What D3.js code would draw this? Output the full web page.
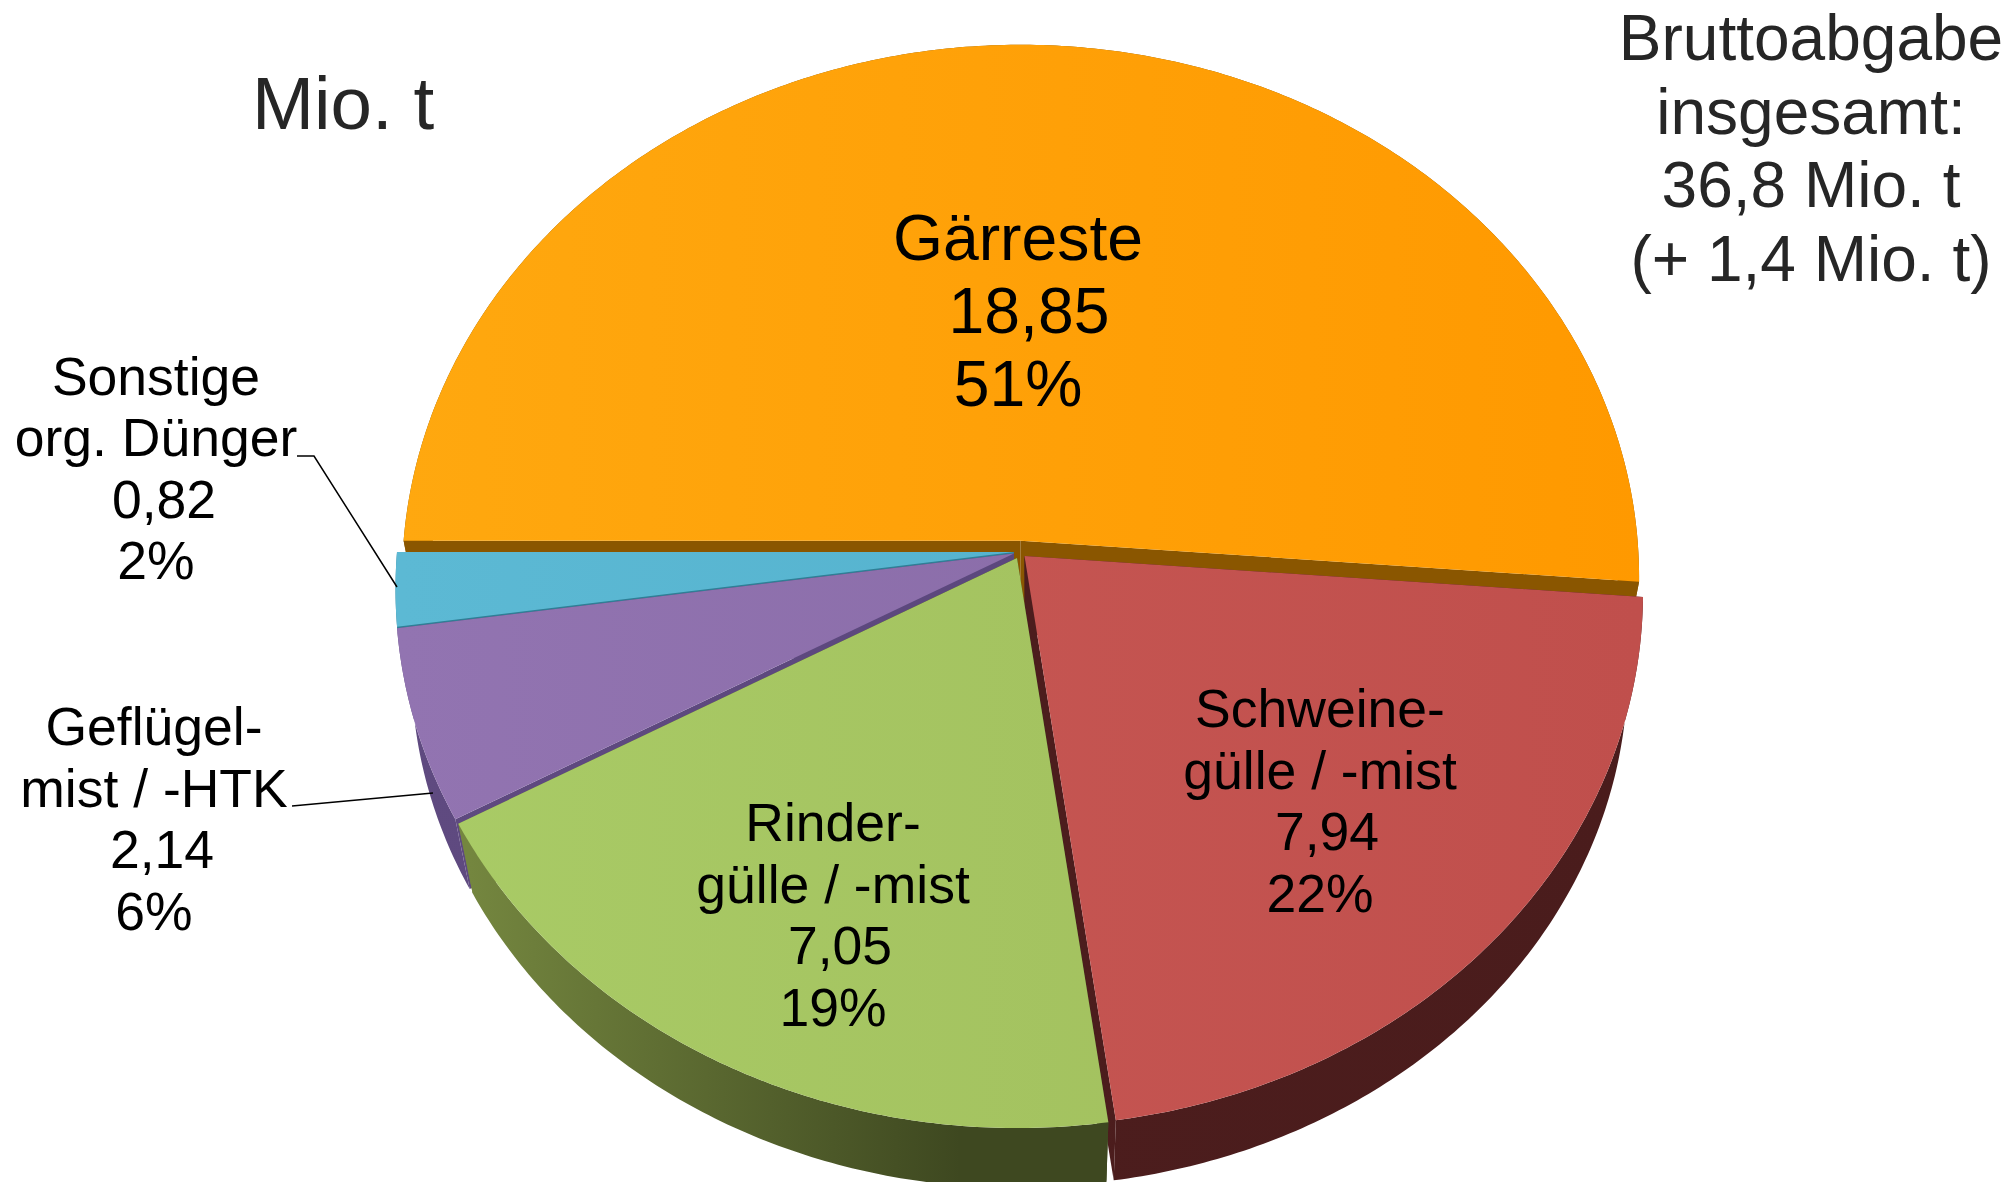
<!DOCTYPE html>
<html><head><meta charset="utf-8">
<style>html,body{margin:0;padding:0;background:#fff}svg{display:block}text{font-family:"Liberation Sans",Arial,sans-serif}</style>
<script src="https://cdnjs.cloudflare.com/ajax/libs/d3/7.8.5/d3.min.js"></script>
</head><body>
<svg id="c" width="2010" height="1182"></svg>
<script>
// ---- data ----
const categories = ["Gärreste","Schweinegülle / -mist","Rindergülle / -mist","Geflügelmist / -HTK","Sonstige org. Dünger"];
const valuesMioT = [18.85, 7.94, 7.05, 2.14, 0.82];
const valueLabels = ["18,85","7,94","7,05","2,14","0,82"];
const percentLabels = ["51%","22%","19%","6%","2%"];
const nameLines = [["Gärreste"],["Schweine-","gülle / -mist"],["Rinder-","gülle / -mist"],["Geflügel-","mist / -HTK"],["Sonstige","org. Dünger"]];
const unitLabel = "Mio. t";
const totalLines = ["Bruttoabgabe","insgesamt:","36,8 Mio. t","(+ 1,4 Mio. t)"];

// ---- styling / layout ----
const topStops = [["#ffa80f","#ff9900"],["#c95a56","#c04f4c"],["#a9cb66","#a0bc5b"],["#9274b1","#8568a3"],["#5cb9d4","#50aeca"]];
const wallStops = [["#8a5600","#8a5600"],["#4e1e1e","#4a1c1c"],["#74863f","#3e4820"],["#5f4a80","#58457a"],["#2f7f96","#2f7f96"]];
const apexes = [[1020.6,540.7],[1024.5,556],[1017,558],[1014,553.5],[1014,552]];
const labelFont = [64.3,53.5,53.5,53.5,53.5];
const labelAnchor = [[1018,260],[1320,727],[833,841],[154,745],[156,394.5]];
const numberShift = [[11,0],[7,0],[7,0],[8,0],[8,0]];
const rx = 617, ry = 530.4, k = 0.0695, vp = [1030,3000], fx = 0.025, fy = 0.032;

const svg = d3.select("#c");
const defs = svg.append("defs");
function grad(id, c0, c1, x0, x1){
  const g = defs.append("linearGradient").attr("id",id).attr("gradientUnits","userSpaceOnUse")
    .attr("x1",x0).attr("x2",x1).attr("y1",0).attr("y2",0);
  g.append("stop").attr("offset",0).attr("stop-color",c0);
  g.append("stop").attr("offset",1).attr("stop-color",c1);
}
const pie = d3.pie().sort(null).startAngle(-Math.PI/2).endAngle(1.5*Math.PI);
const arcs = pie(valuesMioT);
function project(a, apex){
  const u = Math.sin(a), v = -Math.cos(a), w = 1/(1-k*v);
  return [apex[0]+rx*u*w, apex[1]+ry*v*w];
}
const sink = p => [p[0]+(vp[0]-p[0])*fx, p[1]+(vp[1]-p[1])*fy];
const line = d3.line().curve(d3.curveLinear);

arcs.forEach((d,i)=>{
  grad("top"+i, topStops[i][0], topStops[i][1], 400, 1640);
  const wx = i===2 ? [470,960] : [400,1640];
  grad("wall"+i, wallStops[i][0], wallStops[i][1], wx[0], wx[1]);
});

// painter's order: back slice, the two small slices, red, then green in front
[0,4,3,1,2].forEach(i=>{
  const d = arcs[i], apex = apexes[i];
  const n = Math.max(8, Math.ceil((d.endAngle-d.startAngle)*90));
  const pts = d3.range(n+1).map(j=>project(d.startAngle+(d.endAngle-d.startAngle)*j/n, apex));
  const g = svg.append("g").attr("class","slice").datum(categories[i]);
  const low = pts.map(sink);
  const wall = "url(#wall"+i+")";
  g.append("path").attr("d",line(pts.concat(low.slice().reverse()))+"Z").attr("fill",wall);
  g.append("path").attr("d",line([apex,pts[0],low[0],sink(apex)])+"Z").attr("fill",wall);
  g.append("path").attr("d",line([apex,pts[n],low[n],sink(apex)])+"Z").attr("fill",wall);
  g.append("path").attr("d",line([apex].concat(pts))+"Z").attr("fill","url(#top"+i+")");
});

// leader lines
const leaders = [[[297,456],[314,456],[397,587]],[[292,806],[433,793]]];
leaders.forEach(l=>svg.append("path").attr("d",line(l)).attr("fill","none").attr("stroke","#000").attr("stroke-width",1.5));

// slice labels
const lineStep = [73,61.5,61.5,61.5,61.5];
categories.forEach((c,i)=>{
  const [x,y] = labelAnchor[i];
  const rows = nameLines[i].map(t=>[t,0]).concat([[valueLabels[i],numberShift[i][0]],[percentLabels[i],0]]);
  rows.forEach((r,j)=>svg.append("text").attr("x",x+r[1]).attr("y",y+j*lineStep[i])
    .attr("text-anchor","middle").attr("font-size",labelFont[i]).attr("fill","#000").text(r[0]));
});

// titles
svg.append("text").attr("x",252).attr("y",128.5).attr("font-size",74.5).attr("fill","#262626").text(unitLabel);
totalLines.forEach((t,j)=>svg.append("text").attr("x",1811).attr("y",60+j*73.5).attr("text-anchor","middle")
  .attr("font-size",64).attr("fill","#262626").text(t));
</script>
</body></html>
